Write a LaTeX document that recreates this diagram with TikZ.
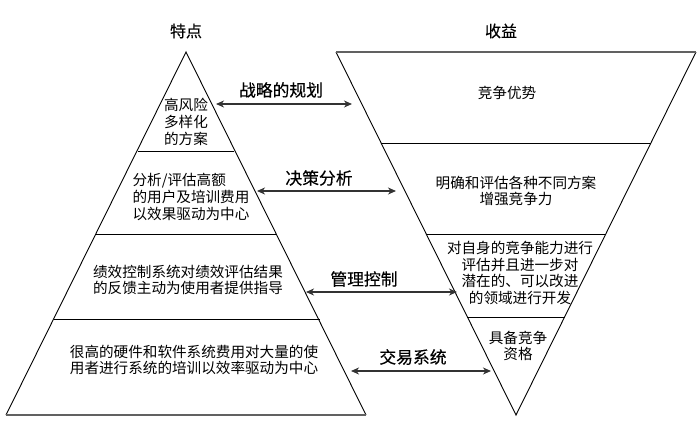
\documentclass[tikz,border=0pt]{standalone}
\usepackage{fontspec}
\setmainfont{Noto Sans CJK SC}
\newfontfamily\heading[FakeBold=0.35]{Noto Sans CJK SC}
\usepackage{tikz}
\usetikzlibrary{arrows.meta,positioning,calc}

\begin{document}
\begin{tikzpicture}[
    x=1pt, y=-1pt,
    tier/.style={draw=none, align=center, font=\fontsize{14.6}{16.6}\selectfont, inner sep=0pt},
    title/.style={font=\fontsize{16}{18}\selectfont\heading, inner sep=0pt},
    link/.style={font=\fontsize{16.8}{18}\selectfont\heading, inner sep=0pt},
    edge/.style={draw=black, line width=0.9pt},
    rim/.style={draw=black!62, line width=2pt},
    divider/.style={draw=black, line width=0.9pt},
    arrow/.style={{Stealth[length=8pt,width=7pt,inset=2.5pt]}-{Stealth[length=8pt,width=7pt,inset=2.5pt]}, draw=black!80, line width=1.2pt}
]
\useasboundingbox (0,0) rectangle (697,429);

% Pyramid: characteristics
\coordinate (pa) at (186,52);
\coordinate (pl) at (6,415);
\coordinate (pr) at (366,415);
\draw[edge] (pl) -- (pa) -- (pr);
\draw[rim] (pl) -- (pr);
\draw[divider] (138,151) -- (234,151);
\draw[divider] (96,234) -- (276,234);
\draw[divider] (54,319) -- (320,319);

% Funnel: benefits
\coordinate (fa) at (516,415);
\coordinate (fl) at (336,52);
\coordinate (fr) at (696,52);
\draw[edge] (fl) -- (fa) -- (fr);
\draw[rim] (fl) -- (fr);
\draw[divider] (381,143) -- (651,143);
\draw[divider] (426,234) -- (606,234);
\draw[divider] (467,317) -- (565,317);

% Titles
\node[title] (feat) at (186,31) {特点};
\node[title] (gain) at (501,31) {收益};

% Pyramid texts
\node[tier] (p1) at (186,122) {高风险\\多样化\\的方案};
\node[tier, align=left] (p2) at (191,197) {分析/评估高额\\的用户及培训费用\\以效果驱动为中心};
\node[tier] (p3) at (188,280) {绩效控制系统对绩效评估结果\\的反馈主动为使用者提供指导};
\node[tier] (p4) at (194,360) {很高的硬件和软件系统费用对大量的使\\用者进行系统的培训以效率驱动为中心};

% Funnel texts
\node[tier] (f1) at (507,93) {竞争优势};
\node[tier] (f2) at (516,191) {明确和评估各种不同方案\\增强竞争力};
\node[tier] (f3) at (520,273) {对自身的竞争能力进行\\评估并且进一步对\\潜在的、可以改进\\的领域进行开发};
\node[tier] (f4) at (518,346) {具备竞争\\资格};

% Links between the two
\coordinate (s1a) at (216,104);
\coordinate (s1b) at (352,104);
\coordinate (s2a) at (257,191);
\coordinate (s2b) at (396,191);
\coordinate (s3a) at (306,292);
\coordinate (s3b) at (457,292);
\coordinate (s4a) at (351,371);
\coordinate (s4b) at (491,371);

\draw[arrow] (s1a) -- (s1b);
\draw[arrow] (s2a) -- (s2b);
\draw[arrow] (s3a) -- (s3b);
\draw[arrow] (s4a) -- (s4b);

\node[link] (l1) at (281,90) {战略的规划};
\node[link] (l2) at (319,178) {决策分析};
\node[link] (l3) at (364,279) {管理控制};
\node[link] (l4) at (413,357) {交易系统};

\end{tikzpicture}
\end{document}
